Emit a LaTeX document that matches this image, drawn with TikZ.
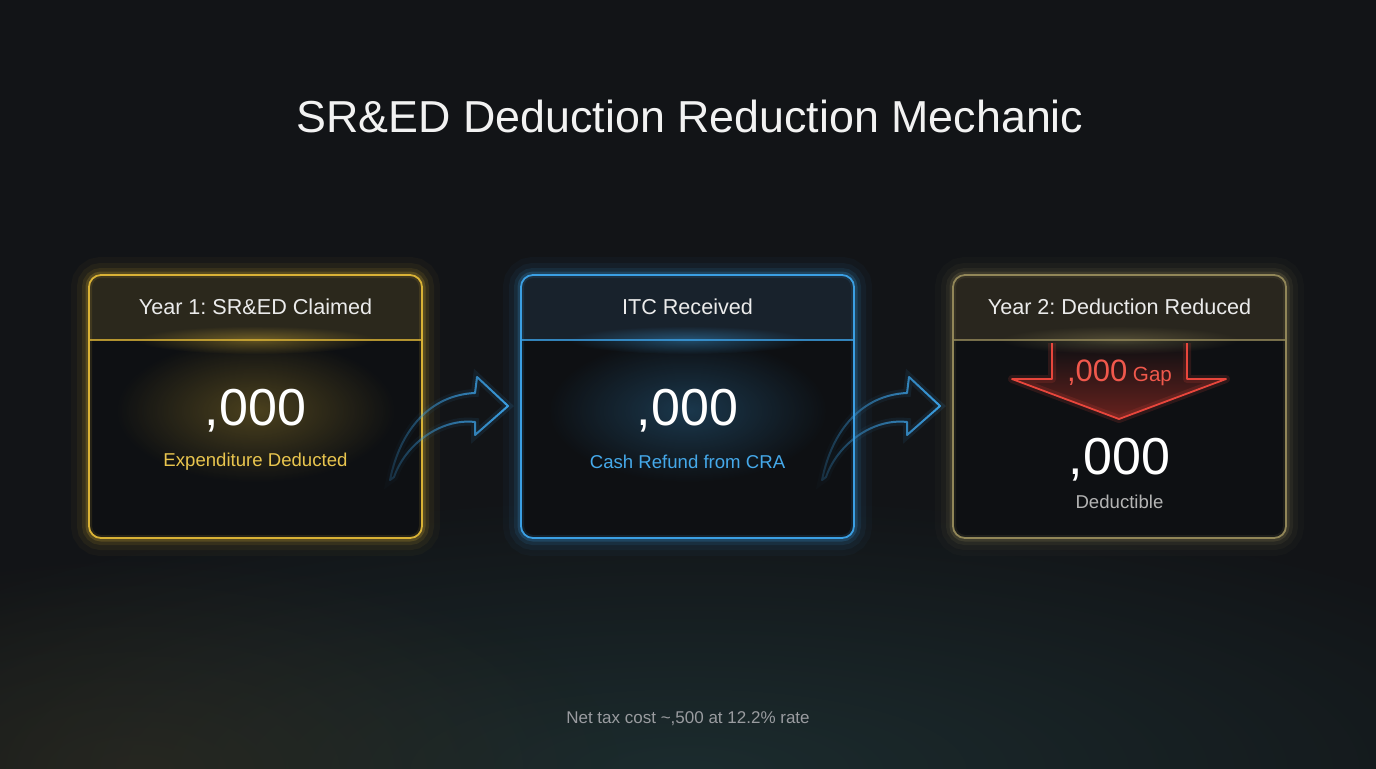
\documentclass[tikz,border=0pt]{standalone}
\usepackage{fontspec}
\setmainfont{Liberation Sans}
\usetikzlibrary{positioning,fadings,backgrounds}
\frenchspacing
\definecolor{bgdark}{HTML}{121417}
\definecolor{bodyfill}{HTML}{0E1013}
\definecolor{goldline}{HTML}{D9B236}
\definecolor{goldtext}{HTML}{E9C54E}
\definecolor{goldhead}{HTML}{2B281C}
\definecolor{blueline}{HTML}{3B9FE3}
\definecolor{bluetext}{HTML}{45A9EA}
\definecolor{bluehead}{HTML}{18222C}
\definecolor{tanline}{HTML}{918658}
\definecolor{tanhead}{HTML}{29261E}
\definecolor{redline}{HTML}{E8463C}
\definecolor{redtext}{HTML}{F0584C}
\definecolor{greytext}{HTML}{B4B4B4}
\definecolor{foottext}{HTML}{9A9CA0}
\definecolor{tealglow}{HTML}{203638}
\definecolor{amberglow}{HTML}{3A3220}
\tikzfading[name=softglow, inner color=transparent!0, outer color=transparent!100]
\tikzfading[name=tailfade, left color=transparent!80, right color=transparent!0]
\tikzfading[name=downfade, top color=transparent!100, bottom color=transparent!20]
\tikzset{
    card/.style={
           rectangle,
           rounded corners=6pt,
           minimum width=166.5pt, minimum height=131.5pt,
           inner sep=0pt, outer sep=0pt,
           fill=bodyfill,
           },
}
\tikzset{
    hdtext/.style={text=white!92!black, font=\fontsize{10.8}{13}\selectfont},
    bignum/.style={text=white, font=\fontsize{26}{30}\selectfont},
    subtext/.style={font=\fontsize{9.3}{11}\selectfont},
    flowarrow/.style={draw=blueline, line width=1pt, line join=round},
}
\newcommand{\cardframe}[3]{%
  \begin{pgfonlayer}{background}
  \foreach \lw/\op in {18pt/0.035, 12pt/0.06, 7pt/0.1, 3.5pt/0.2}
    {\draw[#2, line width=\lw, opacity=\op, rounded corners=6pt] (#1.north west) rectangle (#1.south east);}
  \end{pgfonlayer}
  \begin{scope}
    \clip[rounded corners=6pt] (#1.north west) rectangle (#1.south east);
    \fill[#3] (#1.north west) rectangle ([yshift=-32.5pt]#1.north east);
    \fill[#2, opacity=0.4, path fading=softglow] ([yshift=-32.5pt]#1.north) ellipse (60pt and 7pt);
    \draw[#2, line width=3pt, opacity=0.12, rounded corners=6pt] (#1.north west) rectangle (#1.south east);
  \end{scope}
  \draw[#2, line width=0.6pt, opacity=0.8] ([yshift=-32.5pt]#1.north west) -- ([yshift=-32.5pt]#1.north east);
  \draw[#2, line width=0.9pt, rounded corners=6pt] (#1.north west) rectangle (#1.south east);
}
\newcommand{\bendarrow}[1]{%
  \begin{scope}[shift={(#1.east)}]
    \draw[blueline, line width=4pt, opacity=0.12, path fading=tailfade]
      (-32,73.5) .. controls (-22,23.5) and (8,-11.5) .. (53,-13.5) -- (55,-29.5) -- (86,-0.5)
      -- (53,28.5) -- (53,15.5) .. controls (18,11.5) and (-17,38.5) .. (-28,70.5) -- cycle;
    \draw[flowarrow, path fading=tailfade]
      (-32,73.5) .. controls (-22,23.5) and (8,-11.5) .. (53,-13.5) -- (55,-29.5) -- (86,-0.5)
      -- (53,28.5) -- (53,15.5) .. controls (18,11.5) and (-17,38.5) .. (-28,70.5) -- cycle;
  \end{scope}
}

\begin{document}
\begin{tikzpicture}[x=0.5pt, y=-0.5pt]
\useasboundingbox (0,0) rectangle (1376,768);
\begin{pgfonlayer}{background}
\fill[bgdark] (-10,-10) rectangle (1386,778);
\fill[tealglow, opacity=0.7, path fading=softglow] (688,770) ellipse (480pt and 140pt);
\fill[amberglow, opacity=0.45, path fading=softglow] (140,770) ellipse (240pt and 110pt);
\end{pgfonlayer}

\node[text=white!95!black, font=\fontsize{22.4}{26}\selectfont] (title) at (690,116) {SR\&ED Deduction Reduction Mechanic};

\node[card] (y1) at (255.5,406.5) {};
\node[card, right=49.5pt of y1] (itc) {};
\node[card, right=49.5pt of itc] (y2) {};

\fill[goldline, opacity=0.3, path fading=softglow] ([yshift=-2pt]y1.center) ellipse (70pt and 36pt);
\fill[blueline, opacity=0.28, path fading=softglow] ([yshift=-2pt]itc.center) ellipse (70pt and 36pt);
\cardframe{y1}{goldline}{goldhead}
\cardframe{itc}{blueline}{bluehead}
\cardframe{y2}{tanline}{tanhead}

\node[hdtext] (y1hd) at ([yshift=-16pt]y1.north) {Year 1: SR\&ED Claimed};
\node[bignum] (y1num) at ([yshift=-2.25pt]y1.center) {,000};
\node[subtext, text=goldtext] (y1sub) at ([yshift=-27.75pt]y1.center) {Expenditure Deducted};

\node[hdtext] (itchd) at ([yshift=-16pt]itc.north) {ITC Received};
\node[bignum] (itcnum) at ([yshift=-2.25pt]itc.center) {,000};
\node[subtext, text=bluetext] (itcsub) at ([yshift=-27.75pt]itc.center) {Cash Refund from CRA};

\node[hdtext] (y2hd) at ([yshift=-16pt]y2.north) {Year 2: Deduction Reduced};
\begin{scope}[shift={(y2.center)}]
  \fill[redline!55!black, path fading=downfade]
    (-67.5,-63.5) -- (-67.5,-27.5) -- (-107.5,-27.5) -- (-0.5,12.5) -- (106.5,-27.5) -- (67.5,-27.5) -- (67.5,-63.5) -- cycle;
  \draw[redline, line width=4pt, opacity=0.15, line join=round]
    (-67.5,-63.5) -- (-67.5,-27.5) -- (-107.5,-27.5) -- (-0.5,12.5) -- (106.5,-27.5) -- (67.5,-27.5) -- (67.5,-63.5);
  \draw[redline, line width=0.9pt, line join=round]
    (-67.5,-63.5) -- (-67.5,-27.5) -- (-107.5,-27.5) -- (-0.5,12.5) -- (106.5,-27.5) -- (67.5,-27.5) -- (67.5,-63.5);
\end{scope}
\node[text=redtext, anchor=base] (gap) at ([yshift=12.5pt]y2.center) {{\fontsize{15.5}{18}\selectfont ,000} {\fontsize{10.3}{12}\selectfont Gap}};
\node[bignum] (y2num) at ([yshift=-26.75pt]y2.center) {,000};
\node[subtext, text=greytext] (y2sub) at ([yshift=-47.75pt]y2.center) {Deductible};

\bendarrow{y1}
\bendarrow{itc}

\node[text=foottext, font=\fontsize{8.5}{10}\selectfont] (foot) at (688,719) {Net tax cost \textasciitilde,500 at 12.2\% rate};
\end{tikzpicture}
\end{document}
